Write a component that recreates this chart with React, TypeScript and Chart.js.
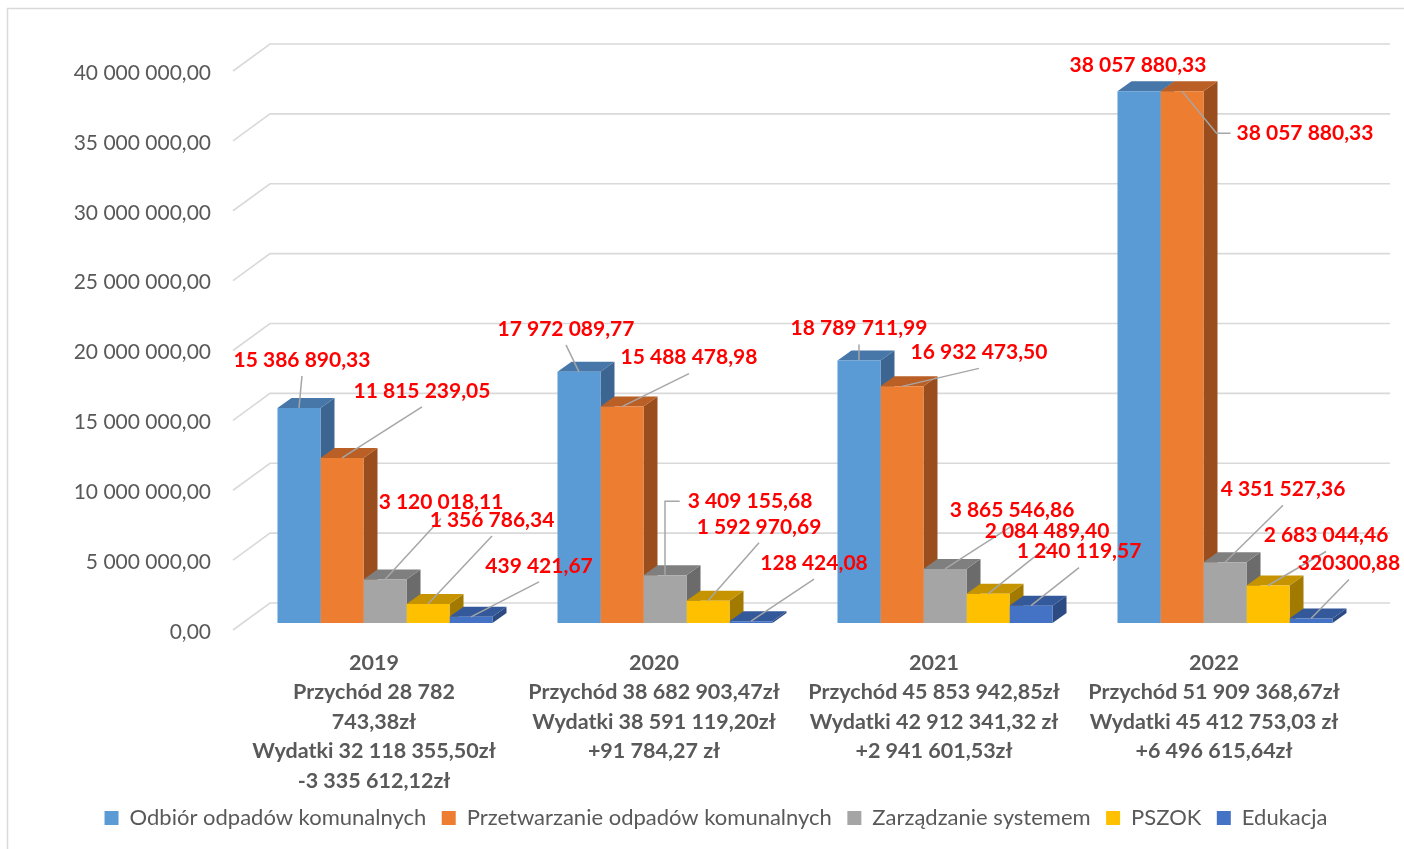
import React, { useEffect, useRef } from 'react';
import { Chart, registerables } from 'chart.js';

Chart.register(...registerables);

// ---------- data ----------
const categories: string[][] = [
  ['2019', 'Przychód 28 782', '743,38zł', 'Wydatki 32 118 355,50zł', '-3 335 612,12zł'],
  ['2020', 'Przychód 38 682 903,47zł', 'Wydatki 38 591 119,20zł', '+91 784,27 zł'],
  ['2021', 'Przychód 45 853 942,85zł', 'Wydatki 42 912 341,32 zł', '+2 941 601,53zł'],
  ['2022', 'Przychód 51 909 368,67zł', 'Wydatki 45 412 753,03 zł', '+6 496 615,64zł'],
];

const seriesNames = [
  'Odbiór odpadów komunalnych',
  'Przetwarzanie odpadów komunalnych',
  'Zarządzanie systemem',
  'PSZOK',
  'Edukacja',
];

const odbior = [15386890.33, 17972089.77, 18789711.99, 38057880.33];
const przetwarzanie = [11815239.05, 15488478.98, 16932473.5, 38057880.33];
const zarzadzanie = [3120018.11, 3409155.68, 3865546.86, 4351527.36];
const pszok = [1356786.34, 1592970.69, 2084489.4, 2683044.46];
const edukacja = [439421.67, 128424.08, 1240119.57, 320300.88];

const odbiorLabels = ['15 386 890,33', '17 972 089,77', '18 789 711,99', '38 057 880,33'];
const przetwarzanieLabels = ['11 815 239,05', '15 488 478,98', '16 932 473,50', '38 057 880,33'];
const zarzadzanieLabels = ['3 120 018,11', '3 409 155,68', '3 865 546,86', '4 351 527,36'];
const pszokLabels = ['1 356 786,34', '1 592 970,69', '2 084 489,40', '2 683 044,46'];
const edukacjaLabels = ['439 421,67', '128 424,08', '1 240 119,57', '320300,88'];

const yMin = 0;
const yMax = 40000000;
const yStep = 5000000;

// ---------- styles ----------
const frontColors = ['#5B9BD5', '#ED7D31', '#A5A5A5', '#FFC000', '#4472C4'];
const topColors = ['#4677A8', '#BA5F25', '#7F7F7F', '#C59400', '#34599B'];
const sideColors = ['#3C6691', '#9A4E1E', '#6B6B6B', '#A37A00', '#2C4B82'];

// label placement relative to the bar's top-centre: [dx, dy, leaderKind]
// leaderKind: 'l' straight, 'e' elbow (horizontal then vertical), 'h' horizontal then diagonal, 'n' none
type Place = [number, number, string];
const odbiorPlace: Place[] = [[3, -48, 'l'], [-13, -43, 'l'], [0, -32, 'l'], [-1, -26, 'n']];
const przetwarzaniePlace: Place[] = [[80, -67, 'l'], [67, -49, 'l'], [77, -34, 'l'], [123, 42, 'h']];
const zarzadzaniePlace: Place[] = [[56, -77, 'l'], [85, -74, 'e'], [67, -59, 'l'], [58, -73, 'l']];
const pszokPlace: Place[] = [[64, -84, 'l'], [51, -74, 'l'], [59, -63, 'l'], [58, -50, 'l']];
const edukacjaPlace: Place[] = [[68, -51, 'l'], [63, -58, 'l'], [48, -54, 'l'], [38, -55, 'l']];

const allValues = [odbior, przetwarzanie, zarzadzanie, pszok, edukacja];
const allLabels = [odbiorLabels, przetwarzanieLabels, zarzadzanieLabels, pszokLabels, edukacjaLabels];
const allPlaces = [odbiorPlace, przetwarzaniePlace, zarzadzaniePlace, pszokPlace, edukacjaPlace];

const FONT = "Lato, 'Noto Sans', sans-serif";
const DEPTH_X = 14;
const DEPTH_Y = 10;

const fmtAxis = (v: number) => {
  const [i, d] = Math.abs(v).toFixed(2).split('.');
  return (v < 0 ? '-' : '') + i.replace(/\B(?=(\d{3})+(?!\d))/g, ' ') + ',' + d;
};

const threeD = {
  id: 'threeD',
  beforeDraw(chart: any) {
    const { ctx } = chart;
    ctx.save();
    ctx.strokeStyle = '#D9D9D9';
    ctx.lineWidth = 1.5;
    ctx.strokeRect(7.5, 8.5, 1410, 900);
    ctx.restore();
  },
  beforeDatasetsDraw(chart: any) {
    const { ctx, chartArea: ca } = chart;
    const y = chart.scales.y;
    ctx.save();
    ctx.strokeStyle = '#D9D9D9';
    ctx.lineWidth = 1.6;
    y.ticks.forEach((t: any) => {
      const py = y.getPixelForValue(t.value);
      ctx.beginPath();
      ctx.moveTo(ca.left - 12, py + 7);
      ctx.lineTo(ca.left + 25, py - 20);
      ctx.lineTo(ca.right + 25, py - 20);
      ctx.stroke();
    });
    const n = chart.data.labels.length;
    for (let i = 0; i < n; i++) {
      for (let d = 0; d < chart.data.datasets.length; d++) {
        const el = chart.getDatasetMeta(d).data[i];
        const { x, y: top, base, width } = el.getProps(['x', 'y', 'base', 'width'], true);
        const l = x - width / 2;
        const r = x + width / 2;
        ctx.fillStyle = sideColors[d];
        ctx.beginPath();
        ctx.moveTo(r, top);
        ctx.lineTo(r + DEPTH_X, top - DEPTH_Y);
        ctx.lineTo(r + DEPTH_X, base - DEPTH_Y);
        ctx.lineTo(r, base);
        ctx.closePath();
        ctx.fill();
        ctx.fillStyle = topColors[d];
        ctx.beginPath();
        ctx.moveTo(l, top);
        ctx.lineTo(l + DEPTH_X, top - DEPTH_Y);
        ctx.lineTo(r + DEPTH_X, top - DEPTH_Y);
        ctx.lineTo(r, top);
        ctx.closePath();
        ctx.fill();
      }
    }
    ctx.restore();
  },
  afterDatasetsDraw(chart: any) {
    const { ctx } = chart;
    ctx.save();
    ctx.font = `bold 21px ${FONT}`;
    ctx.textAlign = 'center';
    ctx.textBaseline = 'middle';
    for (let d = 0; d < chart.data.datasets.length; d++) {
      const meta = chart.getDatasetMeta(d);
      meta.data.forEach((el: any, i: number) => {
        const { x, y: top } = el.getProps(['x', 'y'], true);
        const [dx, dy, kind] = allPlaces[d][i];
        const text = allLabels[d][i];
        const lx = x + dx;
        const ly = top + dy;
        const w = ctx.measureText(text).width;
        ctx.strokeStyle = '#A6A6A6';
        ctx.lineWidth = 1.5;
        ctx.beginPath();
        if (kind === 'l') {
          ctx.moveTo(lx, ly + 16);
          ctx.lineTo(x, top);
        } else if (kind === 'e') {
          ctx.moveTo(lx - w / 2 - 8, ly);
          ctx.lineTo(x, ly);
          ctx.lineTo(x, top);
        } else if (kind === 'h') {
          ctx.moveTo(lx - w / 2 - 6, ly);
          ctx.lineTo(lx - w / 2 - 20, ly);
          ctx.lineTo(x, top);
        }
        if (kind !== 'n') ctx.stroke();
        ctx.fillStyle = '#FF0000';
        ctx.fillText(text, lx, ly);
      });
    }
    ctx.restore();
  },
};

export default function App() {
  const ref = useRef<HTMLCanvasElement>(null);
  useEffect(() => {
    Chart.defaults.font.family = FONT;
    Chart.defaults.color = '#595959';
    const chart = new Chart(ref.current as HTMLCanvasElement, {
      type: 'bar',
      data: {
        labels: categories,
        datasets: seriesNames.map((name, d) => ({
          label: name,
          data: allValues[d],
          backgroundColor: frontColors[d],
          borderWidth: 0,
          categoryPercentage: 0.768,
          barPercentage: 1,
        })),
      },
      options: {
        responsive: false,
        animation: false,
        devicePixelRatio: 1,
        layout: { padding: { left: 67, right: 39, top: 64, bottom: 10 } },
        plugins: {
          legend: {
            position: 'bottom',
            labels: {
              boxWidth: 14,
              boxHeight: 14,
              padding: 15.5,
              color: '#595959',
              font: { size: 22, family: FONT },
            },
          },
          tooltip: { enabled: false },
        },
        scales: {
          x: {
            grid: { display: false, drawTicks: false },
            border: { display: false },
            ticks: {
              autoSkip: false,
              maxRotation: 0,
              minRotation: 0,
              padding: 25,
              labelOffset: -11,
              color: '#595959',
              font: { size: 21.5, weight: 'bold', family: FONT, lineHeight: 1.372 },
            },
            afterFit: (s: any) => {
              s.height = 168.5;
            },
          },
          y: {
            min: yMin,
            max: yMax,
            grid: { display: false, drawTicks: false },
            border: { display: false },
            ticks: {
              stepSize: yStep,
              padding: 34,
              labelOffset: 9,
              color: '#595959',
              font: { size: 21, family: FONT },
              callback: (v: any) => fmtAxis(Number(v)),
            },
            afterFit: (s: any) => {
              s.width = 178;
            },
          },
        },
      },
      plugins: [threeD],
    } as any);
    return () => chart.destroy();
  }, []);
  return (
    <div style={{ position: 'absolute', left: 0, top: 0, width: 1404, height: 849 }}>
      <canvas ref={ref} width={1404} height={849} style={{ display: 'block' }} />
    </div>
  );
}
